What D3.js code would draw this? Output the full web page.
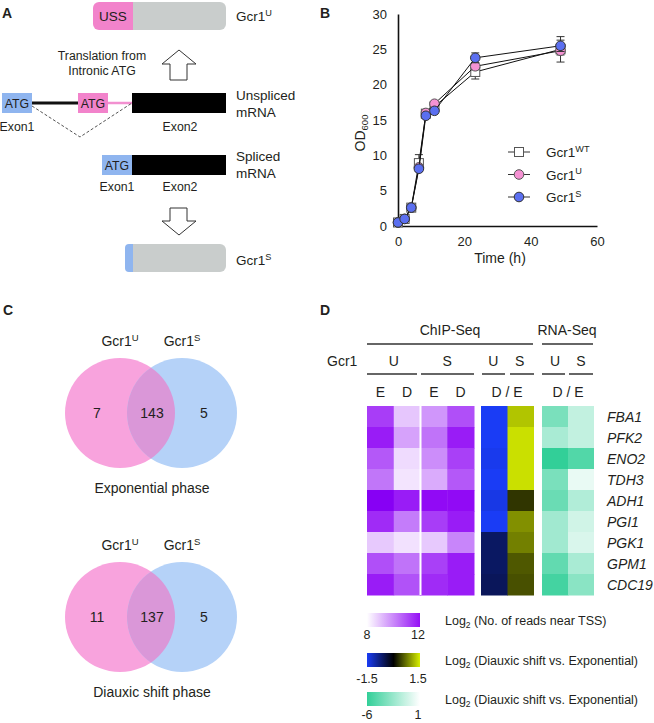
<!DOCTYPE html>
<html><head><meta charset="utf-8">
<script src="https://cdn.jsdelivr.net/npm/d3@7"></script>
<style>
body{margin:0;background:#fff}
svg text{font-family:"Liberation Sans",Arial,Helvetica,sans-serif;fill:#231f20}
</style>
</head><body>
<svg id="c" width="654" height="723"></svg>
<script>
// ---------------- DATA ----------------
// Panel B growth curves
const times   = [0, 2, 4, 6.3, 8.4, 11, 23.3, 49];
const odWT    = [0.5, 1.0, 2.6, 8.9, 15.9, 16.9, 21.8, 25.0];
const odWTErr = [0.1, 0.1, 0.2, 1.2, 0.3, 0.3, 1.0, 1.8];
const odU     = [0.5, 1.0, 2.6, 8.3, 16.0, 17.3, 22.6, 24.8];
const odUErr  = [0, 0, 0, 0.3, 0.2, 0.2, 0.5, 0.6];
const odS     = [0.5, 1.0, 2.6, 8.1, 15.6, 16.3, 23.8, 25.5];
const odSErr  = [0, 0, 0, 0.3, 0.2, 0.2, 0.7, 0.8];
const xTicks  = [0, 20, 40, 60];
const yTicks  = [0, 5, 10, 15, 20, 25, 30];
const seriesNames = ["WT", "U", "S"];

// Panel C Venn
const vennCountsExp = [7, 143, 5];
const vennCountsDia = [11, 137, 5];
const vennPhases = ["Exponential phase", "Diauxic shift phase"];

// Panel D heatmap
const genes  = ["FBA1","PFK2","ENO2","TDH3","ADH1","PGI1","PGK1","GPM1","CDC19"];
const chipUE = [11.25, 11.8, 10.8, 10.3, 12.5, 11.55, 8.9, 10.95, 11.8];
const chipUD = [8.95, 9.55, 8.6, 8.45, 11.8, 10.2, 8.5, 10.35, 10.9];
const chipSE = [9.75, 10.35, 9.9, 9.4, 12.1, 11.25, 8.9, 11.2, 11.55];
const chipSD = [10.95, 11.8, 11.2, 10.8, 12.1, 11.8, 10.05, 11.8, 11.8];
const chipRatioU = [-1.5, -1.5, -1.45, -1.5, -1.4, -1.6, -0.6, -0.6, -0.55];
const chipRatioS = [1.23, 1.4, 1.4, 1.4, 0.33, 0.9, 0.8, 0.55, 0.5];
const rnaRatioU  = [-3.55, -1.95, -6.0, -3.55, -4.1, -2.2, -2.2, -4.35, -5.4];
const rnaRatioS  = [-1.1, -1.1, -4.9, 0.25, -1.65, -0.6, -0.3, -1.95, -3.0];
const chipCols = ["UE","UD","SE","SD"];
const ratioCols = ["U","S"];

// ---------------- DRAW ----------------
const svg = d3.select("#c");
const ink = "#231f20";

function t(g, x, y, s, size, anchor, extra) {
  const e = g.append("text").attr("x", x).attr("y", y).attr("font-size", size)
    .attr("text-anchor", anchor || "start").text(s);
  if (extra) extra(e);
  return e;
}
function supLabel(g, x, y, base, sup, size, anchor) {
  const e = g.append("text").attr("x", x).attr("y", y).attr("font-size", size)
    .attr("text-anchor", anchor || "start");
  e.append("tspan").text(base);
  e.append("tspan").attr("font-size", size * 0.68).attr("dy", -size * 0.38).text(sup);
  return e;
}
function subLabel(g, x, y, base, sub, rest, size, anchor) {
  const e = g.append("text").attr("x", x).attr("y", y).attr("font-size", size)
    .attr("text-anchor", anchor || "start");
  e.append("tspan").text(base);
  e.append("tspan").attr("font-size", size * 0.68).attr("dy", size * 0.25).text(sub);
  if (rest) e.append("tspan").attr("dy", -size * 0.25).text(rest);
  return e;
}

// Panel letters
[["A",2,18],["B",320,18],["C",3,315],["D",320,315]].forEach(([l,x,y]) =>
  t(svg, x, y, l, 14, "start", e => e.attr("font-weight", "bold")));

// ---------- Panel A (schematic) ----------
const gA = svg.append("g");
const cPink = "#f283cb", cGrey = "#c9cdcc", cBlue = "#8fb5ef";
gA.append("rect").attr("x",125).attr("y",2).attr("width",101).attr("height",28).attr("rx",6).attr("fill",cGrey);
gA.append("rect").attr("x",93).attr("y",2).attr("width",40).attr("height",28).attr("rx",6).attr("fill",cPink);
gA.append("rect").attr("x",115).attr("y",2).attr("width",18).attr("height",28).attr("fill",cPink);
t(gA, 113, 21, "USS", 13.5, "middle", e => e.attr("fill","#333"));
supLabel(gA, 236, 21, "Gcr1", "U", 13.5);
t(gA, 102, 60, "Translation from", 12.3, "middle");
t(gA, 102, 75, "Intronic ATG", 12.3, "middle");
gA.append("path").attr("d","M179,50 L196,64 L187,64 L187,80 L170,80 L170,64 L162,64 Z")
  .attr("fill","#fff").attr("stroke","#333").attr("stroke-width",1);
gA.append("line").attr("x1",32).attr("x2",78).attr("y1",103).attr("y2",103).attr("stroke","#111").attr("stroke-width",3);
gA.append("line").attr("x1",108).attr("x2",132).attr("y1",103).attr("y2",103).attr("stroke","#f290d0").attr("stroke-width",2.5);
gA.append("rect").attr("x",2).attr("y",93).attr("width",30).attr("height",20).attr("fill",cBlue);
gA.append("rect").attr("x",78).attr("y",93).attr("width",30).attr("height",20).attr("fill",cPink);
gA.append("rect").attr("x",132).attr("y",93).attr("width",94).attr("height",20).attr("fill","#000");
t(gA, 17, 108, "ATG", 12.3, "middle", e => e.attr("fill","#1a2a55"));
t(gA, 93, 108, "ATG", 12.3, "middle", e => e.attr("fill","#3a1030"));
gA.append("path").attr("d","M32,106 L80,137 L132,103").attr("fill","none")
  .attr("stroke","#555").attr("stroke-width",1).attr("stroke-dasharray","3,2");
t(gA, 17, 131, "Exon1", 12.3, "middle");
t(gA, 180, 131, "Exon2", 12.3, "middle");
t(gA, 236, 100, "Unspliced", 13.5);
t(gA, 236, 117, "mRNA", 13.5);
gA.append("rect").attr("x",102).attr("y",155).attr("width",30).attr("height",20).attr("fill",cBlue);
gA.append("rect").attr("x",132).attr("y",155).attr("width",94).attr("height",20).attr("fill","#000");
t(gA, 117, 170, "ATG", 12.3, "middle", e => e.attr("fill","#1a2a55"));
t(gA, 117, 191, "Exon1", 12.3, "middle");
t(gA, 180, 191, "Exon2", 12.3, "middle");
t(gA, 236, 161, "Spliced", 13.5);
t(gA, 236, 178, "mRNA", 13.5);
gA.append("path").attr("d","M170,208 L187,208 L187,221 L196,221 L179,235 L162,221 L170,221 Z")
  .attr("fill","#fff").attr("stroke","#333").attr("stroke-width",1);
gA.append("rect").attr("x",125).attr("y",244).attr("width",101).attr("height",28).attr("rx",6).attr("fill",cGrey);
gA.append("rect").attr("x",125).attr("y",244).attr("width",12).attr("height",28).attr("rx",4).attr("fill",cBlue);
gA.append("rect").attr("x",133).attr("y",244).attr("width",14).attr("height",28).attr("fill",cGrey);
supLabel(gA, 236, 265, "Gcr1", "S", 13.5);

// ---------- Panel B ----------
const gB = svg.append("g");
const x = d3.scaleLinear().domain([0, 60]).range([398, 597]);
const y = d3.scaleLinear().domain([0, 30]).range([226, 14]);
const xAx = gB.append("g").attr("transform", `translate(0,${y(0)})`)
  .call(d3.axisBottom(x).tickValues(xTicks).tickSize(0).tickSizeOuter(0).tickPadding(11));
const yAx = gB.append("g").attr("transform", `translate(${x(0)},0)`)
  .call(d3.axisLeft(y).tickValues(yTicks).tickSize(0).tickSizeOuter(0).tickPadding(11));
[xAx, yAx].forEach(a => {
  a.attr("font-family", null).attr("font-size", null);
  a.select(".domain").attr("stroke", "#111").attr("stroke-width", 1.6);
  a.selectAll("text").attr("font-size", 13).attr("fill", ink);
});
t(gB, 500, 263, "Time (h)", 14, "middle");
{
  const e = gB.append("text").attr("transform", "translate(365,133) rotate(-90)")
    .attr("text-anchor", "middle").attr("font-size", 14);
  e.append("tspan").text("OD");
  e.append("tspan").attr("font-size", 9.5).attr("dy", 3).text("600");
}
const seriesData = [
  {name:"WT", vals: odWT, err: odWTErr, shape:"square", fill:"#ffffff", stroke:"#555"},
  {name:"U",  vals: odU,  err: odUErr,  shape:"circle", fill:"#f592d3", stroke:"#555"},
  {name:"S",  vals: odS,  err: odSErr,  shape:"circle", fill:"#5b6ff0", stroke:"#333"}
];
const line = d3.line().x(d => x(d.t)).y(d => y(d.v));
seriesData.forEach(s => {
  const pts = times.map((tt, i) => ({t: tt, v: s.vals[i], e: s.err[i]}));
  const g = gB.append("g");
  g.append("path").datum(pts).attr("d", line).attr("fill", "none").attr("stroke", "#111").attr("stroke-width", 1);
  pts.filter(p => p.e > 0.25).forEach(p => {
    g.append("path").attr("d",
      `M${x(p.t)},${y(p.v - p.e)}V${y(p.v + p.e)}M${x(p.t)-4},${y(p.v + p.e)}H${x(p.t)+4}M${x(p.t)-4},${y(p.v - p.e)}H${x(p.t)+4}`)
      .attr("stroke", "#333").attr("stroke-width", 1).attr("fill", "none");
  });
  pts.forEach(p => {
    if (s.shape === "square")
      g.append("rect").attr("x", x(p.t) - 4.5).attr("y", y(p.v) - 4.5).attr("width", 9).attr("height", 9)
        .attr("fill", s.fill).attr("stroke", s.stroke).attr("stroke-width", 1);
    else
      g.append("circle").attr("cx", x(p.t)).attr("cy", y(p.v)).attr("r", 4.8)
        .attr("fill", s.fill).attr("stroke", s.stroke).attr("stroke-width", 1);
  });
});
const legSup = {WT: "WT", U: "U", S: "S"};
seriesData.forEach((s, i) => {
  const ly = 152 + i * 22.5;
  gB.append("line").attr("x1", 508).attr("x2", 530).attr("y1", ly).attr("y2", ly).attr("stroke", "#333").attr("stroke-width", 1);
  if (s.shape === "square")
    gB.append("rect").attr("x", 514.5).attr("y", ly - 4.5).attr("width", 9).attr("height", 9)
      .attr("fill", s.fill).attr("stroke", s.stroke);
  else
    gB.append("circle").attr("cx", 519).attr("cy", ly).attr("r", 4.8).attr("fill", s.fill).attr("stroke", s.stroke);
  supLabel(gB, 546, ly + 5, "Gcr1", legSup[s.name], 13.5);
});

// ---------- Panel C ----------
const gC = svg.append("g");
const defs = svg.append("defs");
[[vennCountsExp, 413, vennPhases[0]], [vennCountsDia, 617, vennPhases[1]]].forEach(([cnt, cy, ph], k) => {
  const cx1 = 120, cx2 = 182, r = 55;
  gC.append("circle").attr("cx", cx1).attr("cy", cy).attr("r", r).attr("fill", "#f8a3dd");
  gC.append("circle").attr("cx", cx2).attr("cy", cy).attr("r", r).attr("fill", "#b5d2f8");
  defs.append("clipPath").attr("id", "clip" + k).append("circle").attr("cx", cx1).attr("cy", cy).attr("r", r);
  gC.append("circle").attr("cx", cx2).attr("cy", cy).attr("r", r).attr("fill", "#da97d8").attr("clip-path", `url(#clip${k})`);
  supLabel(gC, cx1, cy - 67, "Gcr1", "U", 14, "middle");
  supLabel(gC, cx2, cy - 67, "Gcr1", "S", 14, "middle");
  [97, 152, 204].forEach((nx, i) => t(gC, nx, cy + 5, String(cnt[i]), 14, "middle"));
  t(gC, 152, cy + 80, ph, 14, "middle");
});

// ---------- Panel D ----------
const gD = svg.append("g");
const row = d3.scaleBand().domain(genes).range([406, 595]);
const colChip = d3.scaleBand().domain(chipCols).range([367, 474]);
const colRatio = d3.scaleBand().domain(ratioCols).range([481, 534]);
const colRna = d3.scaleBand().domain(ratioCols).range([542, 594]);
const purple = d3.scaleLinear().domain([8, 12]).range(["#ffffff", "#9410f5"]);
const byb = d3.scaleLinear().domain([-1.5, 0, 1.5]).range(["#1a3cf5", "#000000", "#d8f000"]).clamp(true);
const green = d3.scaleLinear().domain([-6, 1]).range(["#32cf98", "#ffffff"]).clamp(true);
const chipVals = {UE: chipUE, UD: chipUD, SE: chipSE, SD: chipSD};
genes.forEach((gname, i) => {
  chipCols.forEach(c => gD.append("rect").attr("x", colChip(c)).attr("y", row(gname))
    .attr("width", colChip.bandwidth() + 0.5).attr("height", row.bandwidth() + 0.5).attr("fill", purple(chipVals[c][i])));
  gD.append("rect").attr("x", colRatio("U")).attr("y", row(gname)).attr("width", colRatio.bandwidth() + 0.5)
    .attr("height", row.bandwidth() + 0.5).attr("fill", byb(chipRatioU[i]));
  gD.append("rect").attr("x", colRatio("S")).attr("y", row(gname)).attr("width", colRatio.bandwidth())
    .attr("height", row.bandwidth() + 0.5).attr("fill", byb(chipRatioS[i]));
  gD.append("rect").attr("x", colRna("U")).attr("y", row(gname)).attr("width", colRna.bandwidth() + 0.5)
    .attr("height", row.bandwidth() + 0.5).attr("fill", green(rnaRatioU[i]));
  gD.append("rect").attr("x", colRna("S")).attr("y", row(gname)).attr("width", colRna.bandwidth())
    .attr("height", row.bandwidth() + 0.5).attr("fill", green(rnaRatioS[i]));
  t(gD, 607, row(gname) + row.bandwidth() / 2 + 5, gname, 14, "start", e => e.attr("font-style", "italic"));
});
gD.append("rect").attr("x", colChip("SE") - 1).attr("y", 406).attr("width", 2).attr("height", 189).attr("fill", "#fff");
const hl = (x1, x2, yy) => gD.append("line").attr("x1", x1).attr("x2", x2).attr("y1", yy).attr("y2", yy)
  .attr("stroke", "#333").attr("stroke-width", 1.5);
t(gD, 450, 335, "ChIP-Seq", 14, "middle");
t(gD, 567, 335, "RNA-Seq", 14, "middle");
hl(367, 533, 344); hl(542, 593, 344);
t(gD, 327, 366, "Gcr1", 14, "start");
const chipCenter = (a, b) => (colChip(a) + colChip(b) + colChip.bandwidth()) / 2;
t(gD, chipCenter("UE", "UD"), 366, "U", 14, "middle");
t(gD, chipCenter("SE", "SD"), 366, "S", 14, "middle");
ratioCols.forEach(c => {
  t(gD, colRatio(c) + colRatio.bandwidth() / 2 - 1, 366, c, 14, "middle");
  t(gD, colRna(c) + colRna.bandwidth() / 2, 366, c, 14, "middle");
});
hl(367, 417, 374); hl(421, 474, 374); hl(482, 505, 374); hl(510, 534, 374); hl(542, 565, 374); hl(569, 593, 374);
chipCols.forEach(c => t(gD, colChip(c) + colChip.bandwidth() / 2, 397, c[1], 14, "middle"));
t(gD, 507, 397, "D / E", 14, "middle");
t(gD, 568, 397, "D / E", 14, "middle");

const legs = [
  {scale: purple, dom: [8, 12], labs: ["8", "12"], y0: 613, ly: 639, text: " (No. of reads near TSS)", ty: 625},
  {scale: byb, dom: [-1.5, 1.5], labs: ["-1.5", "1.5"], y0: 653, ly: 683, text: " (Diauxic shift vs. Exponential)", ty: 665},
  {scale: green, dom: [-6, 1], labs: ["-6", "1"], y0: 692, ly: 718.5, text: " (Diauxic shift vs. Exponential)", ty: 704}
];
legs.forEach((L, k) => {
  const grad = defs.append("linearGradient").attr("id", "lg" + k);
  d3.range(0, 1.0001, 0.1).forEach(f => grad.append("stop").attr("offset", f)
    .attr("stop-color", L.scale(L.dom[0] + f * (L.dom[1] - L.dom[0]))));
  gD.append("rect").attr("x", 367).attr("y", L.y0).attr("width", 53).attr("height", 14).attr("fill", `url(#lg${k})`);
  t(gD, 367, L.ly, L.labs[0], 12.5, "middle");
  t(gD, 418, L.ly, L.labs[1], 12.5, "middle");
  subLabel(gD, 445, L.ty, "Log", "2", L.text, 12.5);
});
</script>
</body></html>
